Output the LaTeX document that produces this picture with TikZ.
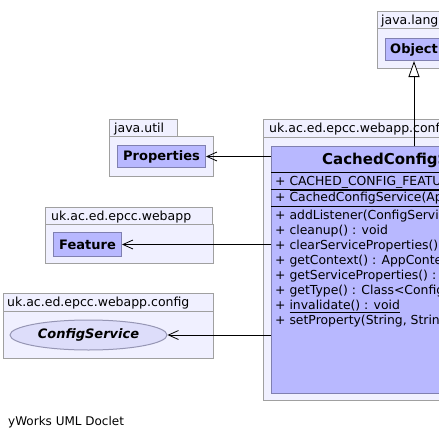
\documentclass[tikz,border=0pt]{standalone}
\usepackage{fontspec}
\setmainfont{DejaVu Sans}
\usetikzlibrary{arrows.meta,shapes.geometric}
\definecolor{pkgfill}{RGB}{240,240,255}
\definecolor{pkgline}{RGB}{160,160,160}
\definecolor{clsfill}{RGB}{184,184,255}
\definecolor{clsline}{RGB}{128,128,176}
\definecolor{ifcfill}{RGB}{221,221,250}
\definecolor{ifcline}{RGB}{150,150,180}

\begin{document}
\begin{tikzpicture}[x=1pt,y=-1pt,
    pkg/.style={fill=pkgfill,draw=pkgline,line width=1pt},
    pkglabel/.style={anchor=base west,inner sep=0pt,font=\fontsize{12.5}{14}\selectfont},
    cls/.style={fill=clsfill,draw=clsline,line width=1pt,inner sep=0pt,font=\fontsize{13}{15}\selectfont\bfseries},
    member/.style={anchor=base west,inner sep=0pt,font=\fontsize{12.4}{14}\selectfont},
    uses/.style={-{Straight Barb[length=10pt,width=9pt]},line width=0.8pt},
    extends/.style={-{Triangle[length=16pt,width=11pt,fill=white]},line width=0.8pt}]
      \useasboundingbox (0,0) rectangle (439,439);
      \fill[white] (0,0) rectangle (439,439);
      \clip (0,0) rectangle (439,439);
      % java.lang
      \filldraw[pkg] (377,11) rectangle (445,28);
      \filldraw[pkg] (377,28) rectangle (470,68);
      \node[pkglabel] at (381,24) {java.lang};
      \node[cls,minimum width=57pt,minimum height=22pt,anchor=north west] (object) at (385,38) {Object};
      % java.util
      \filldraw[pkg] (109,119) rectangle (177,136);
      \filldraw[pkg] (109,136) rectangle (213,176);
      \node[pkglabel] at (114,132) {java.util};
      \node[cls,minimum width=88pt,minimum height=22pt,anchor=north west] (props) at (117,145) {Properties};
      % uk.ac.ed.epcc.webapp
      \filldraw[pkg] (45,207) rectangle (212,224);
      \filldraw[pkg] (45,224) rectangle (213,263);
      \node[pkglabel] at (51,220) {uk.ac.ed.epcc.webapp};
      \node[cls,minimum width=68pt,minimum height=24pt,anchor=north west] (feature) at (53,232) {Feature};
      % uk.ac.ed.epcc.webapp.config
      \filldraw[pkg] (3,293) rectangle (213,311);
      \filldraw[pkg] (3,311) rectangle (213,358);
      \node[pkglabel] at (7,306.5) {uk.ac.ed.epcc.webapp.config};
      \node[ellipse,fill=ifcfill,draw=ifcline,line width=1pt,minimum width=157pt,minimum height=30pt,inner sep=0pt,
        font=\fontsize{13}{15}\selectfont\bfseries\itshape] (configservice) at (88.5,335) {ConfigService};
      % main package
      \filldraw[pkg] (263,119) rectangle (480,137);
      \filldraw[pkg] (263,137) rectangle (480,400);
      \node[pkglabel] at (269,132.5) {uk.ac.ed.epcc.webapp.config};
      \node[cls,minimum width=292pt,minimum height=247pt,anchor=north west] (cached) at (271,146) {};
      \node[anchor=base west,inner sep=0pt,font=\fontsize{15}{18}\selectfont\bfseries] (cachedname) at (322,164.5) {CachedConfigService};
      \draw[line width=1pt] (271,172)--(563,172);
      \draw[line width=1pt] (271,189)--(563,189);
      \draw[line width=1pt] (271,206)--(563,206);
      \node[member] at (275,185.5) {+ \underline{CACHED\_CONFIG\_FEATURE}};
      \node[member] at (275,201.5) {+ CachedConfigService(AppContext)};
      \node[member] at (275,219) {+ addListener(ConfigServiceListener) : void};
      \node[member] at (275,234) {+ cleanup() : void};
      \node[member] at (275,249) {+ clearServiceProperties() : void};
      \node[member] at (275,264) {+ getContext() : AppContext};
      \node[member] at (275,279) {+ getServiceProperties() : Properties};
      \node[member] at (275,294) {+ getType() : Class<ConfigService>};
      \node[member] at (275,309) {+ \underline{invalidate() : void}};
      \node[member] at (275,324) {+ setProperty(String, String) : void};
      % connectors
      \draw[uses] (cached.west |- props.east) -- (props.east);
      \draw[uses] (cached.west |- feature.east) -- (feature.east);
      \draw[uses] (cached.west |- configservice.east) -- (configservice.east);
      \draw[extends] (cached.north -| object.south) -- (object.south);
      \node[anchor=base west,inner sep=0pt,font=\fontsize{12}{14}\selectfont] (doclet) at (8,425) {yWorks UML Doclet};
\end{tikzpicture}
\end{document}
